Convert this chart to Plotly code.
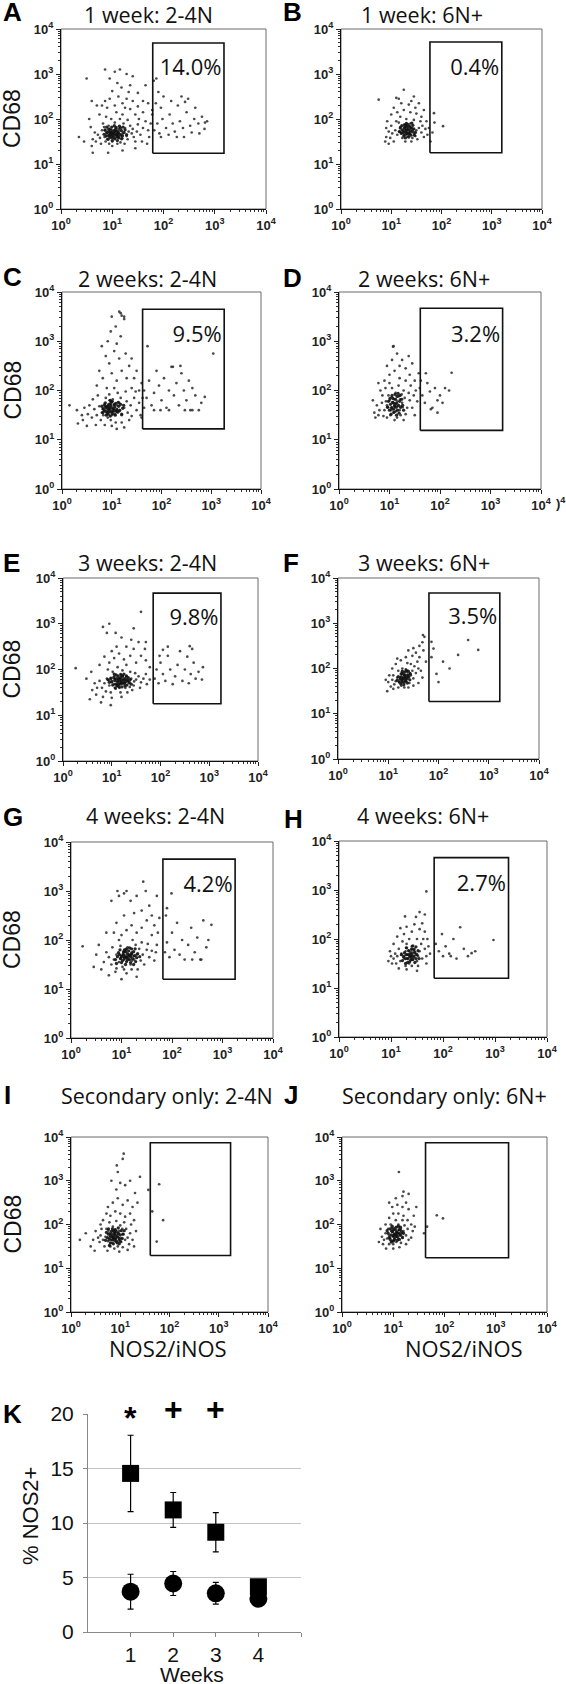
import plotly.graph_objects as go

W, H = 566, 1684

# ---------------- data ----------------
TITLES = ["1 week: 2-4N", "1 week: 6N+", "2 weeks: 2-4N", "2 weeks: 6N+",
          "3 weeks: 2-4N", "3 weeks: 6N+", "4 weeks: 2-4N", "4 weeks: 6N+",
          "Secondary only: 2-4N", "Secondary only: 6N+"]
LETTERS = ["A", "B", "C", "D", "E", "F", "G", "H", "I", "J"]
GATE_PCT = ["14.0%", "0.4%", "9.5%", "3.2%", "9.8%", "3.5%", "4.2%", "2.7%", "", ""]
# gate limits (log10 units)
GATE_X0 = [1.79, 1.77, 1.62, 1.61, 1.85, 1.81, 1.82, 1.83, 1.61, 1.63]
GATE_X1 = [3.18, 3.20, 3.26, 3.24, 3.24, 3.22, 3.25, 3.26, 3.24, 3.25]
GATE_Y0 = [1.24, 1.25, 1.22, 1.19, 1.25, 1.27, 1.20, 1.20, 1.29, 1.24]
GATE_Y1 = [3.69, 3.71, 3.65, 3.67, 3.67, 3.67, 3.65, 3.66, 3.87, 3.87]
DECADE_LABELS = ["10<sup>0</sup>", "10<sup>1</sup>", "10<sup>2</sup>", "10<sup>3</sup>", "10<sup>4</sup>"]

# events: (log10 NOS2/iNOS x100, log10 CD68 x100)
DOTS_A = [(85,160),(92,172),(98,165),(104,170),(110,162),(96,178),(88,168),(106,158),(114,175),(100,150),
          (93,185),(120,168),(108,182),(80,175),(76,158),(118,155),(125,180),(99,160),(103,175),(111,168),
          (90,155),(84,182),(128,162),(132,172),(95,168),(107,166),(101,172),(97,158),(113,160),(87,150),
          (72,165),(68,150),(122,190),(116,148),(105,192),(94,145),(130,155),(138,168),(135,185),(142,160),
          (140,178),(145,150),(148,172),(150,188),(82,190),(78,145),(66,170),(62,155),(60,140),(100,140),
          (110,145),(124,145),(155,165),(158,150),(160,180),(152,200),(115,200),(98,200),(88,205),(130,198),
          (120,210),(102,166),(94,174),(109,171),(117,163),(91,163),(105,163),(97,170),(112,178),(86,176),
          (90,225),(105,230),(120,235),(135,222),(145,210),(128,245),(112,250),(95,245),(80,230),(140,240),
          (100,262),(118,270),(150,228),(160,215),(165,195),(170,175),(172,160),(168,145),(86,240),(75,210),
          (108,215),(125,225),(132,260),(110,280),(95,290),(128,300),(140,295),(115,310),(86,310),(105,305),
          (50,290),(60,240),(70,230),(55,200),(58,182),(35,160),(45,150),(62,125),(92,125),(120,130),
          (145,135),(175,190),(178,210),(135,275),(150,258),(160,240),(170,235),(165,275),
          (182,175),(188,190),(192,168),(198,200),(205,180),(210,165),(212,210),(218,190),(222,172),(228,230),
          (232,195),(238,180),(240,160),(245,215),(248,245),(252,185),(255,170),(260,200),(262,225),(268,190),
          (270,168),(275,205),(280,178),(285,195),(195,225),(185,235),(200,250),(215,240),(235,250),(226,160),
          (178,220),(190,260),(181,285),(186,290),(281,192),(195,160),(242,238)]
DOTS_B = [(120,170),(128,178),(135,172),(140,180),(125,165),(132,160),(145,168),(118,182),(138,190),(126,188),
          (150,175),(112,165),(108,175),(142,158),(130,184),(122,158),(136,168),(148,162),(155,180),(115,192),
          (102,168),(98,158),(105,150),(128,150),(140,150),(152,155),(160,170),(162,185),(158,195),(145,198),
          (130,200),(118,205),(110,195),(100,185),(95,172),(165,160),(168,178),(133,176),(124,174),(137,182),
          (131,170),(127,182),(143,176),(117,172),(134,165),
          (90,180),(92,195),(100,210),(112,215),(125,220),(138,215),(150,212),(160,205),(170,195),(175,180),
          (172,165),(178,150),(90,160),(88,150),(95,145),(120,235),(135,232),(148,225),(105,225),(115,245),
          (140,240),(155,235),(165,220),(182,170),(186,192),(75,243),(125,265),(110,247),(145,250),
          (185,213),(203,184)]
DOTS_C = [(90,158),(96,165),(100,150),(105,170),(85,172),(110,160),(92,145),(80,155),(115,175),(102,182),
          (88,185),(120,150),(125,165),(75,168),(70,150),(98,140),(108,135),(118,185),(130,178),(132,155),
          (78,140),(65,162),(60,145),(95,192),(112,195),(128,198),(138,170),(140,148),(145,185),(150,160),
          (55,170),(52,152),(68,130),(86,130),(100,128),(120,135),(135,140),(155,175),(158,150),(148,198),
          (140,205),(105,205),(90,205),(72,190),(62,182),(94,162),(101,158),(97,172),(89,165),(107,152),
          (82,162),(93,168),(99,176),(86,160),(104,163),(111,170),(91,152),(96,180),(83,150),(115,158),
          (110,220),(100,235),(120,240),(95,255),(115,265),(105,280),(92,300),(118,310),(108,330),(100,350),
          (125,345),(115,360),(120,352),(128,275),(135,250),(145,225),(150,240),(160,215),(130,225),(82,225),
          (75,240),(70,210),(88,270),(98,320),(110,295),(80,290),(140,265),(155,200),(162,185),(165,165),
          (45,165),(40,150),(30,160),(15,170),(32,133),(42,140),(50,128),(160,145),(125,125),(110,122),
          (118,357),(125,350),
          (165,200),(170,185),(175,220),(180,170),(185,195),(190,240),(195,210),(200,180),(205,225),(210,165),
          (215,200),(220,248),(225,190),(230,215),(235,170),(240,235),(245,200),(250,180),(255,220),(258,160),
          (262,205),(268,190),(275,160),(280,175),(287,187),(223,248),(238,250),(215,160),(198,160),(185,160),
          (304,275),(247,160),(262,160),(172,290)]
DOTS_D = [(110,170),(115,178),(105,165),(120,160),(100,180),(118,188),(108,155),(125,175),(95,170),(112,195),
          (102,150),(130,185),(122,150),(98,190),(90,160),(128,200),(135,165),(140,180),(88,148),(95,145),
          (115,145),(132,152),(138,195),(142,210),(105,205),(118,210),(85,175),(80,160),(78,150),(112,172),
          (107,176),(116,168),(103,160),(124,192),(132,220),(120,225),(145,165),(148,190),(86,190),(92,205),
          (100,215),(128,140),(110,140),(109,182),(121,182),(97,166),(113,158),(126,166),(104,186),(93,178),
          (75,170),(70,155),(72,145),(82,200),(90,220),(100,232),(110,240),(120,250),(132,245),(140,232),
          (150,220),(152,200),(155,178),(150,150),(95,250),(105,262),(125,262),(145,255),(138,270),(115,275),
          (108,290),(78,215),(67,180),(160,205),(158,235),(107,289),
          (165,190),(170,175),(175,215),(180,198),(185,165),(190,205),(195,180),(200,190),(205,175),(210,205),
          (218,200),(223,236),(172,235),(162,220),(195,155),(182,162)]
DOTS_E = [(110,175),(116,180),(120,170),(105,185),(125,178),(112,165),(100,172),(130,185),(118,190),(95,165),
          (108,158),(135,170),(140,180),(90,180),(85,170),(128,160),(102,195),(122,198),(145,165),(150,178),
          (80,160),(75,175),(138,195),(148,192),(155,185),(160,172),(165,180),(98,150),(88,152),(118,150),
          (132,150),(142,155),(70,160),(65,170),(60,155),(92,200),(112,205),(130,210),(170,190),(172,168),
          (178,178),(113,176),(119,173),(107,179),(124,182),(127,171),(98,182),(104,168),(116,160),(134,176),
          (68,145),(82,140),(100,138),(120,140),(158,160),(110,168),(122,186),(94,176),(137,162),(146,174),
          (95,215),(105,225),(115,235),(125,222),(138,230),(150,215),(160,230),(145,245),(130,250),(110,250),
          (100,240),(85,228),(75,210),(170,220),(168,245),(155,260),(140,265),(120,270),(108,280),(82,293),
          (90,280),(160,326),(145,290),(178,205),(58,195),(48,180),(26,203),(55,135),(78,128),(98,122),
          (95,300),(170,260),
          (188,180),(192,200),(196,170),(200,215),(205,190),(210,175),(215,230),(220,200),(225,168),(230,185),
          (235,210),(240,240),(245,175),(250,200),(255,228),(258,170),(262,190),(268,215),(272,180),(278,195),
          (285,178),(287,205),(260,251),(265,245),(215,250),(205,243),(198,230)]
DOTS_F = [(130,180),(135,185),(128,175),(140,178),(125,188),(138,192),(122,170),(145,185),(132,168),(118,180),
          (135,198),(148,195),(142,168),(126,162),(115,172),(110,185),(150,178),(152,205),(145,210),(138,212),
          (128,200),(120,195),(112,165),(108,175),(155,190),(158,215),(160,200),(132,158),(140,158),(120,158),
          (133,182),(137,176),(129,190),(143,190),(123,180),(127,170),(134,172),(131,186),(139,184),(125,178),
          (105,160),(102,185),(100,170),(108,200),(115,210),(125,218),(135,225),(148,228),(155,235),(162,225),
          (165,195),(168,180),(160,168),(150,162),(98,150),(170,240),(162,250),(168,258),(172,270),(150,245),
          (140,240),(175,215),(95,175),(118,222),(110,155),
          (196,188),(190,244),(209,215),(222,200),(239,230),(259,263),(279,241),(200,170),(186,225),
          (186,259),(169,274)]
DOTS_G = [(110,165),(115,170),(105,160),(120,175),(100,168),(125,160),(108,180),(95,155),(118,150),(130,170),
          (90,170),(112,185),(102,145),(135,182),(138,158),(85,160),(80,150),(128,190),(98,188),(142,170),
          (145,150),(150,180),(75,165),(120,140),(105,140),(90,142),(155,165),(160,178),(140,195),(122,200),
          (95,200),(82,185),(70,175),(65,155),(152,192),(165,158),(168,175),(108,168),(113,163),(117,168),
          (103,172),(98,162),(124,167),(88,135),(110,132),(132,140),(60,140),(170,190),(106,176),(121,158),
          (100,210),(110,220),(120,230),(130,215),(140,225),(150,240),(160,210),(165,230),(85,215),(90,235),
          (105,250),(125,255),(140,260),(155,270),(118,280),(95,290),(110,300),(105,295),(130,290),(148,300),
          (143,319),(80,280),(92,300),(70,215),(55,190),(50,170),(45,145),(23,187),(130,125),(75,128),
          (100,120),(172,215),(175,245),(160,250),(170,290),
          (186,175),(190,195),(195,165),(200,215),(205,180),(210,235),(215,170),(220,200),(225,160),(232,190),
          (238,225),(245,175),(250,205),(258,160),(262,240),(268,185),(272,200),(278,231),(199,295),(190,265),
          (188,250),(256,160),(240,160)]
DOTS_H = [(138,165),(142,172),(132,160),(148,168),(128,175),(145,180),(135,150),(150,155),(125,160),(140,185),
          (155,175),(120,170),(130,190),(158,190),(118,155),(112,165),(152,145),(140,145),(128,145),(160,160),
          (115,180),(108,170),(162,200),(150,200),(135,200),(122,195),(165,180),(168,165),(110,150),(105,160),
          (136,168),(144,162),(131,168),(140,158),(146,174),(134,176),(126,166),(152,165),(139,178),(129,182),
          (100,165),(98,175),(105,190),(112,205),(125,210),(140,215),(155,220),(165,215),(170,200),(172,185),
          (175,170),(160,232),(145,230),(130,225),(118,222),(127,246),(148,245),(155,255),(165,250),(95,155),
          (102,150),(115,140),(130,138),(150,135),(168,150),(168,297),
          (186,190),(192,175),(198,210),(205,185),(212,170),(220,200),(226,160),(233,224),(240,180),(248,165),
          (255,171),(262,175),(297,198),(200,165),(215,165)]
DOTS_I = [(86,170),(90,178),(82,165),(95,172),(78,180),(92,160),(100,168),(75,162),(88,188),(98,185),
          (70,172),(105,178),(80,150),(95,150),(110,165),(65,165),(72,190),(85,195),(100,198),(112,190),
          (115,170),(118,155),(105,148),(88,145),(68,150),(60,175),(58,160),(120,180),(122,200),(108,205),
          (92,208),(78,205),(62,190),(55,170),(125,165),(128,150),(84,172),(91,167),(87,176),(79,170),
          (96,178),(102,160),(74,140),(98,138),(115,142),(89,182),(83,158),(97,164),(76,186),(104,190),
          (80,220),(90,230),(100,225),(110,218),(120,225),(128,210),(132,185),(72,225),(65,210),(60,200),
          (50,185),(45,165),(40,150),(18,165),(85,250),(95,260),(105,245),(115,255),(125,240),(75,240),
          (92,280),(100,295),(110,290),(82,300),(95,320),(93,335),(107,362),(105,350),(120,300),(140,309),
          (157,279),(135,250),(130,272),(48,140),(30,180),
          (179,292),(187,210),(174,161),(165,230)]
DOTS_J = [(104,178),(108,185),(100,172),(112,180),(96,185),(110,168),(102,192),(115,190),(92,175),(118,172),
          (98,162),(106,160),(88,168),(120,185),(90,190),(95,200),(110,200),(122,198),(85,180),(82,165),
          (115,158),(100,155),(92,155),(125,175),(128,190),(105,210),(118,210),(80,155),(78,172),(130,165),
          (102,176),(107,181),(99,183),(113,175),(94,170),(111,188),(103,166),(117,180),(97,192),(108,174),
          (85,200),(92,215),(100,225),(110,225),(120,220),(128,210),(135,200),(138,185),(135,170),(75,190),
          (72,160),(86,145),(100,145),(112,148),(125,155),(98,240),(108,245),(118,240),(130,235),(140,220),
          (142,195),(105,260),(118,265),(125,250),(92,250),(111,320),(120,275),(130,270),(145,240),
          (185,221),(197,214),(166,195),(160,180)]

# densest part of each cloud (same units)
CORE_A = [(100,168),(104,172),(108,165),(96,170),(112,170),(102,162),(106,176),(98,175),(110,160),(94,164),
          (115,166),(90,170),(118,174),(101,158),(107,180),(93,178),(113,158),(120,163),(88,162),(99,182),
          (105,156),(116,180),(86,175),(123,170),(97,165),(103,168),(109,173),(111,164),(95,160),(119,157),
          (84,166),(125,176),(92,155),(114,184),(89,182),(104,185),(121,182),(100,152),(110,152),(128,165)]
CORE_B = [(130,175),(134,178),(128,172),(138,174),(126,180),(132,168),(136,184),(124,170),(140,180),(131,182),
          (129,166),(142,172),(122,176),(137,168),(127,186),(145,178),(120,168),(133,188),(139,164),(125,162),
          (143,186),(118,180),(135,160),(148,170),(121,185),(130,190),(146,164),(116,172),(141,191),(128,158)]
CORE_C = [(96,160),(100,165),(92,163),(104,158),(98,170),(90,156),(106,167),(94,172),(102,153),(88,166),
          (110,162),(97,148),(85,158),(108,174),(93,152),(112,156),(99,176),(86,170),(114,168),(95,165),
          (103,162),(91,168),(107,150),(83,163),(116,160),(101,178),(89,150),(118,172),(80,168),(105,172),
          (122,164),(94,157),(109,158),(87,175),(99,156),(113,176),(82,155),(120,152),(97,180),(124,170)]
CORE_D = [(110,168),(114,174),(108,162),(118,170),(106,176),(112,182),(104,165),(116,160),(120,178),(102,172),
          (115,188),(109,156),(122,166),(100,160),(113,166),(107,184),(119,154),(124,182),(98,178),(111,192),
          (117,194),(103,152),(126,170),(96,166),(121,190),(105,190),(128,160),(101,184),(114,150),(109,174)]
CORE_E = [(116,175),(120,178),(112,173),(124,176),(118,182),(110,180),(122,170),(114,168),(128,180),(106,176),
          (119,188),(126,170),(108,168),(132,176),(104,182),(115,162),(130,186),(100,174),(122,186),(113,186),
          (136,172),(102,166),(127,164),(109,188),(117,168),(134,182),(98,180),(121,162),(111,164),(138,178),
          (95,172),(125,190),(105,190),(140,168),(119,172),(129,174),(92,178),(114,180),(131,166),(107,160)]
CORE_F = [(130,178),(134,182),(128,175),(137,179),(132,186),(126,182),(139,186),(129,170),(135,172),(124,176),
          (141,182),(127,189),(133,192),(122,170),(138,168),(144,188),(131,164),(120,182),(136,196),(125,166),
          (143,175),(128,194),(118,174),(140,194),(134,176)]
CORE_G = [(110,165),(114,168),(106,163),(118,166),(112,172),(104,170),(116,160),(108,176),(120,172),(100,166),
          (122,162),(110,156),(96,170),(114,178),(102,158),(126,168),(106,180),(118,154),(124,176),(98,162),
          (130,164),(108,150),(92,166),(120,182),(104,176),(128,156),(94,174),(116,184),(132,172),(100,154),
          (112,160),(88,160),(124,150),(110,182),(136,166),(97,180),(119,170),(105,166),(127,182),(90,152)]
CORE_H = [(136,164),(140,168),(132,160),(144,165),(138,172),(130,168),(142,158),(134,176),(146,172),(128,160),
          (148,160),(136,154),(126,172),(140,180),(150,168),(132,152),(124,164),(144,178),(138,158),(152,176),
          (130,182),(146,152),(122,156),(142,186),(134,168),(154,160),(128,150),(148,184),(120,168),(139,163)]
CORE_I = [(86,170),(90,175),(84,165),(94,172),(88,180),(80,174),(92,162),(82,184),(96,180),(78,166),
          (98,168),(86,156),(76,178),(90,188),(100,176),(84,190),(94,158),(74,170),(102,186),(80,158),
          (88,164),(96,192),(72,182),(104,168),(82,178),(92,184),(78,152),(106,178),(86,186),(98,156),
          (70,164),(90,168),(108,186),(76,190),(100,162),(84,172)]
CORE_J = [(102,178),(106,182),(100,174),(110,180),(104,188),(98,184),(108,172),(96,176),(112,188),(102,166),
          (114,176),(94,190),(106,194),(100,162),(116,184),(92,170),(108,164),(98,196),(118,170),(104,172),
          (90,180),(110,196),(96,160),(120,180),(100,188),(112,166),(88,186),(106,176),(114,194),(94,166)]

DOTS = [DOTS_A, DOTS_B, DOTS_C, DOTS_D, DOTS_E, DOTS_F, DOTS_G, DOTS_H, DOTS_I, DOTS_J]
CORES = [CORE_A, CORE_B, CORE_C, CORE_D, CORE_E, CORE_F, CORE_G, CORE_H, CORE_I, CORE_J]

# panel K
WEEKS = [1, 2, 3, 4]
WEEK_LABELS = ["1", "2", "3", "4"]
SQ_MEAN = [14.55, 11.2, 9.15, 4.15]     # 2-4N
SQ_ERR = [3.5, 1.6, 1.8, 0]
CIR_MEAN = [3.7, 4.45, 3.55, 3.05]      # 6N+
CIR_ERR = [1.6, 1.1, 1.0, 0]
SIG_MARK = ["*", "+", "+"]
SIG_LEVEL = [19.6, 20.45, 20.45]
K_TICKS = [0, 5, 10, 15, 20]
K_MAX = 20

# ---------------- layout helpers ----------------
PANELS = [(61, 266, 29, 209), (341, 542, 29, 209), (62, 261, 292, 489), (339, 541, 292, 489),
          (63, 258, 578, 761), (338, 539, 578, 759), (71, 273, 842, 1038), (339, 547, 841, 1037),
          (71, 268, 1137, 1312), (342, 547, 1137, 1312)]
TITLE_POS = [(148, 14), (422, 14), (147, 278), (424, 278), (147, 563), (424, 563),
             (155, 815), (423, 815), (167, 1095), (444, 1095)]
LETTER_POS = [(1, 12), (281, 12), (1, 277), (281, 278), (1, 563), (281, 563),
              (1, 817), (282, 819), (2, 1095), (282, 1095)]

SANS = "Liberation Sans"
CAL = "Open Sans"

def px(x):
    return x / W

def py(y):
    return 1 - y / H

MINOR = [k * 10 ** n for n in range(4) for k in range(2, 10)]

fig = go.Figure()
layout = dict(width=W, height=H, margin=dict(l=0, r=0, t=0, b=0, pad=0, autoexpand=False),
              paper_bgcolor="white", plot_bgcolor="white", showlegend=False)
annotations = []
shapes = []

for i in range(10):
    n = i + 1
    xs = "x" if n == 1 else f"x{n}"
    ys = "y" if n == 1 else f"y{n}"
    xa = "xaxis" if n == 1 else f"xaxis{n}"
    ya = "yaxis" if n == 1 else f"yaxis{n}"
    l, r, t, b = PANELS[i]
    common = dict(type="log", range=[0, 4], tickvals=[10 ** d for d in range(5)],
                  ticktext=DECADE_LABELS, ticks="outside", ticklen=4, tickwidth=1,
                  tickcolor="#222", showline=True, linecolor="#111", linewidth=1.2,
                  mirror=False, showgrid=False, zeroline=False, automargin=False,
                  tickfont=dict(family=SANS, size=13, color="#222", weight="bold"),
                  minor=dict(tickvals=MINOR, ticks="outside", ticklen=2, tickcolor="#333",
                             showgrid=False))
    layout[xa] = dict(common, domain=[px(l), px(r)], anchor=ys)
    layout[ya] = dict(common, domain=[py(b), py(t)], anchor=xs)
    # grey frame around the plotting area (top and right edges)
    shapes.append(dict(type="rect", xref=f"{xs} domain", yref=f"{ys} domain",
                       x0=0, x1=1, y0=0, y1=1, line=dict(color="#6a6a6a", width=1),
                       layer="below"))

    pts = DOTS[i]
    fig.add_trace(go.Scatter(
        x=[10 ** (p[0] / 100) for p in pts], y=[10 ** (p[1] / 100) for p in pts],
        mode="markers", marker=dict(size=2.7, color="#2a2a2a", opacity=0.85),
        xaxis=xs, yaxis=ys, hoverinfo="skip"))
    core = CORES[i]
    fig.add_trace(go.Scatter(
        x=[10 ** (p[0] / 100) for p in core], y=[10 ** (p[1] / 100) for p in core],
        mode="markers", marker=dict(size=3.3, color="#111", opacity=0.9),
        xaxis=xs, yaxis=ys, hoverinfo="skip"))
    gx0, gx1 = 10 ** GATE_X0[i], 10 ** GATE_X1[i]
    gy0, gy1 = 10 ** GATE_Y0[i], 10 ** GATE_Y1[i]
    fig.add_trace(go.Scatter(
        x=[gx0, gx1, gx1, gx0, gx0], y=[gy0, gy0, gy1, gy1, gy0], mode="lines",
        line=dict(color="#111", width=1.6), xaxis=xs, yaxis=ys, hoverinfo="skip"))
    if GATE_PCT[i]:
        fig.add_trace(go.Scatter(
            x=[10 ** (GATE_X1[i] - 0.05)], y=[10 ** 3.1], mode="text", text=[GATE_PCT[i]],
            textposition="middle left", textfont=dict(family=CAL, size=22, color="#111"),
            xaxis=xs, yaxis=ys, hoverinfo="skip"))

    tx, ty = TITLE_POS[i]
    annotations.append(dict(text=TITLES[i], x=px(tx), y=py(ty), xref="paper", yref="paper",
                            xanchor="center", yanchor="middle", showarrow=False,
                            font=dict(family=CAL, size=21.5, color="#111")))
    lx, ly = LETTER_POS[i]
    annotations.append(dict(text="<b>" + LETTERS[i] + "</b>", x=px(lx), y=py(ly), xref="paper",
                            yref="paper", xanchor="left", yanchor="middle", showarrow=False,
                            font=dict(family=SANS, size=26, color="#000")))
    if i % 2 == 0:
        annotations.append(dict(text="CD68", x=px(12), y=py((t + b) / 2), xref="paper",
                                yref="paper", xanchor="center", yanchor="middle",
                                textangle=-90, showarrow=False,
                                font=dict(family=SANS, size=23, color="#111")))

# x-axis titles under I and J
for cx in (168, 464):
    annotations.append(dict(text="NOS2/iNOS", x=px(cx), y=py(1348), xref="paper", yref="paper",
                            xanchor="center", yanchor="middle", showarrow=False,
                            font=dict(family=CAL, size=22, color="#111")))
# stray label fragment on panel D's x axis
annotations.append(dict(text=")<sup>4</sup>", x=px(554), y=py(503), xref="paper", yref="paper",
                        xanchor="left", yanchor="middle", showarrow=False,
                        font=dict(family=SANS, size=13, color="#222", weight="bold")))

# ---------------- panel K ----------------
layout["xaxis11"] = dict(domain=[px(88), px(301)], anchor="y11", range=[0, 5],
                         tickvals=[1, 2, 3, 4, 5], ticktext=WEEK_LABELS + [""],
                         ticks="outside", ticklen=4, tickcolor="#888", showline=True,
                         linecolor="#888", linewidth=1, showgrid=False, zeroline=False,
                         automargin=False,
                         tickfont=dict(family=SANS, size=21, color="#111"))
layout["yaxis11"] = dict(domain=[py(1632), py(1414)], anchor="x11", range=[0, K_MAX],
                         tickvals=K_TICKS, ticks="outside", ticklen=4, tickcolor="#888",
                         showline=True, linecolor="#888", linewidth=1, showgrid=True,
                         gridcolor="#c4c4c4", gridwidth=1, zeroline=False, automargin=False,
                         ticklabelstandoff=5,
                         tickfont=dict(family=SANS, size=21, color="#111"))

fig.add_trace(go.Scatter(x=WEEKS, y=SQ_MEAN, mode="markers",
                         marker=dict(symbol="square", size=17, color="#000"),
                         error_y=dict(type="data", array=SQ_ERR, color="#000", thickness=1.2, width=3),
                         xaxis="x11", yaxis="y11", hoverinfo="skip"))
fig.add_trace(go.Scatter(x=WEEKS, y=CIR_MEAN, mode="markers",
                         marker=dict(symbol="circle", size=18, color="#000"),
                         error_y=dict(type="data", array=CIR_ERR, color="#000", thickness=1.2, width=3),
                         xaxis="x11", yaxis="y11", hoverinfo="skip"))
for wk, mk, yv in zip(WEEKS[:3], SIG_MARK, SIG_LEVEL):
    annotations.append(dict(text="<b>" + mk + "</b>", x=wk, y=yv / K_MAX, xref="x11",
                            yref="y11 domain", xanchor="center", yanchor="middle",
                            showarrow=False, font=dict(family=SANS, size=32, color="#000")))

annotations.append(dict(text="<b>K</b>", x=px(1), y=py(1414), xref="paper", yref="paper",
                        xanchor="left", yanchor="middle", showarrow=False,
                        font=dict(family=SANS, size=26, color="#000")))
annotations.append(dict(text="% NOS2+", x=px(30), y=py(1516), xref="paper", yref="paper",
                        xanchor="center", yanchor="middle", textangle=-90, showarrow=False,
                        font=dict(family=SANS, size=22, color="#111")))
annotations.append(dict(text="Weeks", x=px(192), y=py(1674), xref="paper", yref="paper",
                        xanchor="center", yanchor="middle", showarrow=False,
                        font=dict(family=SANS, size=21, color="#111")))

layout["annotations"] = annotations
layout["shapes"] = shapes
fig.update_layout(**layout)
fig.write_html("out.html", config={"displayModeBar": False},
               post_script="document.body.style.margin='0';document.body.style.padding='0';"
                           "document.documentElement.style.overflow='hidden';")
